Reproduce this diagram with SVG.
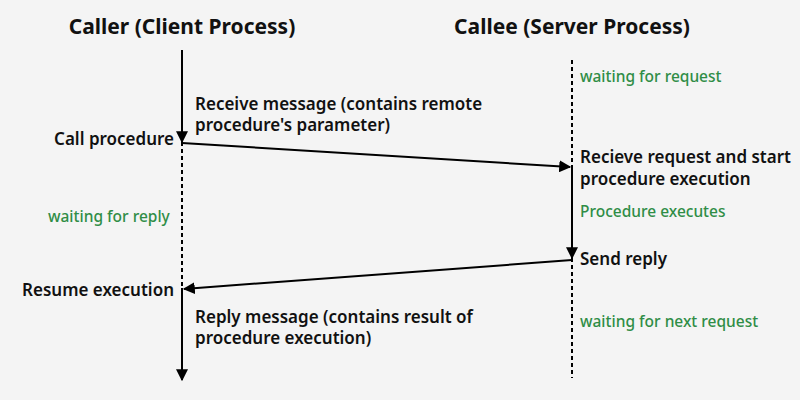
<svg xmlns="http://www.w3.org/2000/svg" width="800" height="400" viewBox="0 0 800 400">
<style>
text{font-family:"Noto Sans","Open Sans",sans-serif;font-weight:600;fill:#111}
.t{font-size:21px;font-weight:700}
.l{font-size:17px}
.g{font-size:15.5px;fill:#2f8d46;font-weight:500}
.s{stroke:#000;stroke-width:2;fill:none}
.d{stroke:#000;stroke-width:2;stroke-dasharray:4 3;fill:none}
</style>
<defs><marker id="a" viewBox="0 0 10 10" refX="9" refY="5" markerWidth="6" markerHeight="6" orient="auto"><path d="M0,0L10,5L0,10z" fill="#000"/></marker></defs>
<rect width="800" height="400" fill="#f4f4f4"/>
<g id="lifelines">
<line class="s" x1="182" y1="50" x2="182" y2="142" marker-end="url(#a)"/>
<line class="d" x1="182" y1="142" x2="182" y2="288"/>
<line class="s" x1="182" y1="288" x2="182" y2="380" marker-end="url(#a)"/>
<line class="d" x1="572" y1="60" x2="572" y2="166"/>
<line class="s" x1="572" y1="166" x2="572" y2="258" marker-end="url(#a)"/>
<line class="d" x1="572" y1="258" x2="572" y2="378"/>
</g>
<g id="connectors">
<line class="s" x1="182" y1="143" x2="570" y2="167" marker-end="url(#a)"/>
<line class="s" x1="572" y1="260" x2="184" y2="289" marker-end="url(#a)"/>
</g>
<g id="caller"><text class="t" x="182" y="34" text-anchor="middle">Caller (Client Process)</text></g>
<g id="callee"><text class="t" x="572" y="34" text-anchor="middle">Callee (Server Process)</text></g>
<text class="l" x="195" y="110">Receive message (contains remote</text>
<text class="l" x="195" y="131">procedure's parameter)</text>
<text class="l" x="174" y="145" text-anchor="end">Call procedure</text>
<text class="g" x="48" y="222">waiting for reply</text>
<text class="l" x="174" y="296" text-anchor="end">Resume execution</text>
<text class="l" x="195" y="323">Reply message (contains result of</text>
<text class="l" x="195" y="344">procedure execution)</text>
<text class="g" x="580" y="82">waiting for request</text>
<text class="l" x="580" y="163">Recieve request and start</text>
<text class="l" x="580" y="185">procedure execution</text>
<text class="g" x="580" y="217">Procedure executes</text>
<text class="l" x="580" y="265">Send reply</text>
<text class="g" x="580" y="327">waiting for next request</text>
</svg>
